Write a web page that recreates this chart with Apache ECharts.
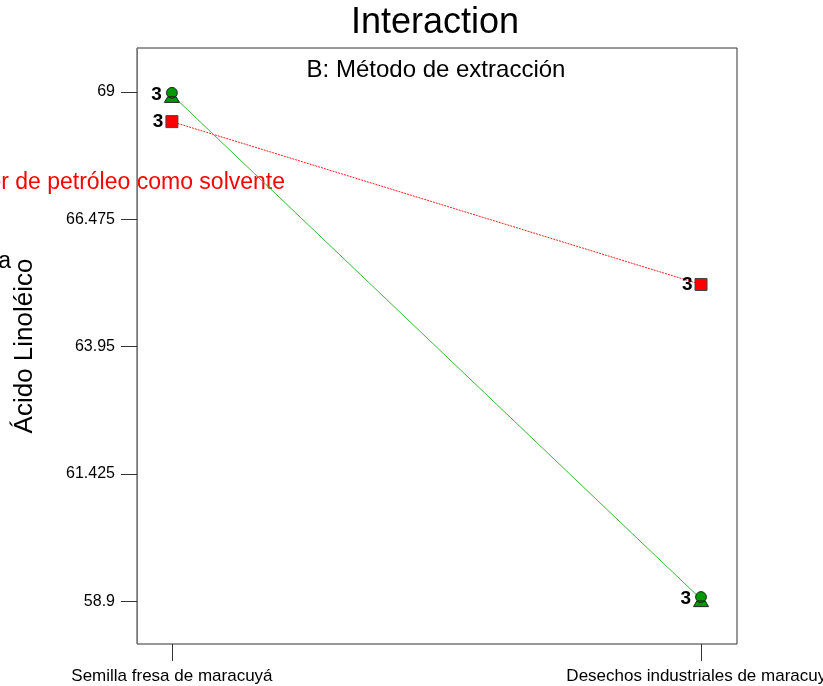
<!DOCTYPE html>
<html>
<head>
<meta charset="utf-8">
<script src="https://cdn.jsdelivr.net/npm/echarts@6/dist/echarts.min.js"></script>
<style>
  html, body { margin: 0; padding: 0; background: #fff; }
  #chart { width: 823px; height: 686px; }
</style>
</head>
<body>
<div id="chart"></div>
<script>
// factor A levels (x positions 0 and 1)
var categories = ['Semilla fresa de maracuyá', 'Desechos industriales de maracuyá'];
var yTicks = [58.9, 61.425, 63.95, 66.475, 69];
// Ácido Linoléico means for each level of B
var greenVals = [68.94, 58.94];
var redVals = [68.41, 65.18];
var reps = ['3', '3'];

var chart = echarts.init(document.getElementById('chart'));

function pts(vals) {
  return vals.map(function (v, i) { return [i, v]; });
}

// circle sitting on a little trapezoid base
var greenSym = 'path://M5,0 A3.6,3.6 0 1 1 4.99,0 Z M2.2,6.2 L7.8,6.2 L10,10 L0,10 Z';

var option = {
  backgroundColor: '#ffffff',
  animation: false,
  graphic: [
    { type: 'text', x: 435, y: 23,
      style: { text: 'Interaction', font: '36px Liberation Sans', fill: '#000',
        align: 'center', verticalAlign: 'middle' } },
    { type: 'text', x: 436, y: 70,
      style: { text: 'B: Método de extracción', font: '24px Liberation Sans', fill: '#000',
        align: 'center', verticalAlign: 'middle' } },
    { type: 'text', x: 285, y: 183,
      style: { text: 'Éter de petróleo como solvente', font: '23px Liberation Sans', fill: '#ff0000',
        align: 'right', verticalAlign: 'middle' } },
    { type: 'text', x: 11, y: 262,
      style: { text: 'seca', font: '23px Liberation Sans', fill: '#000',
        align: 'right', verticalAlign: 'middle' } }
  ],
  grid: {
    left: 137, right: 86, top: 48, bottom: 42,
    outerBoundsMode: 'none', containLabel: false,
    show: true, borderColor: '#333', borderWidth: 1, backgroundColor: 'transparent'
  },
  xAxis: {
    type: 'value', min: -0.066, max: 1.068,
    splitLine: { show: false },
    axisLine: { show: false },
    axisTick: { show: true, inside: false, length: 17, lineStyle: { color: '#333' }, customValues: [0, 1] },
    axisLabel: {
      customValues: [0, 1], margin: 24,
      fontFamily: 'Liberation Sans', fontSize: 17, color: '#000',
      formatter: function (v) { return categories[Math.round(v)]; }
    }
  },
  yAxis: {
    type: 'value', min: 58.05, max: 69.87,
    name: 'Ácido Linoléico', nameLocation: 'middle', nameGap: 99,
    nameTextStyle: { fontFamily: 'Liberation Sans', fontSize: 26, color: '#000' },
    splitLine: { show: false },
    axisLine: { show: true, onZero: false, lineStyle: { color: '#777' } },
    axisTick: { show: true, length: 16, lineStyle: { color: '#333' }, customValues: yTicks },
    axisLabel: {
      customValues: yTicks, margin: 22,
      fontFamily: 'Liberation Sans', fontSize: 16, color: '#000',
      formatter: function (v) { return String(v); }
    }
  },
  series: [
    {
      type: 'line', data: pts(redVals), z: 3,
      lineStyle: { color: '#ff2020', width: 1, type: [2, 1] },
      symbol: 'rect', symbolSize: 12,
      itemStyle: { color: '#ff0000', borderColor: '#444', borderWidth: 1 },
      label: { show: true, position: 'left', distance: 2,
        formatter: function (p) { return reps[p.dataIndex]; },
        fontFamily: 'Liberation Sans', fontSize: 19, fontWeight: 'bold', color: '#000' }
    },
    {
      type: 'line', data: pts(greenVals), z: 4,
      lineStyle: { color: '#33bb33', width: 1 },
      symbol: greenSym, symbolSize: 15, symbolKeepAspect: true,
      itemStyle: { color: '#009900', borderColor: '#222', borderWidth: 1 },
      label: { show: true, position: 'left', distance: 2,
        formatter: function (p) { return reps[p.dataIndex]; },
        fontFamily: 'Liberation Sans', fontSize: 19, fontWeight: 'bold', color: '#000' }
    }
  ]
};

chart.setOption(option);
</script>
</body>
</html>
